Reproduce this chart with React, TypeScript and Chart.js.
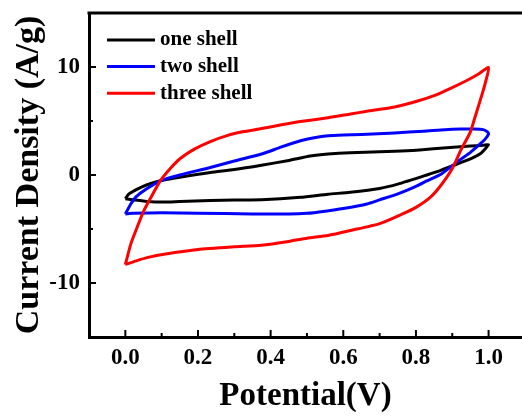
import React, { useEffect, useRef } from 'react';
import { Chart, registerables } from 'chart.js';

Chart.register(...registerables);

// ---- data ----
const seriesLabels = ['one shell', 'two shell', 'three shell'];
const seriesColors = ['#000000', '#0000ff', '#ff0000'];

// one shell: forward scan then reverse scan
const oneShellV = [
  0, 0.01, 0.033, 0.06, 0.097, 0.15, 0.234, 0.3, 0.375, 0.45, 0.509, 0.558, 0.619, 0.741, 0.802, 0.894, 0.95, 0.985, 1.0,
  0.99, 0.976, 0.95, 0.92, 0.87, 0.83, 0.75, 0.7, 0.619, 0.558, 0.482, 0.375, 0.3, 0.234, 0.15, 0.106, 0.06, 0.02, 0,
];
const oneShellI = [
  -2.2, -1.75, -1.3, -0.9, -0.53, -0.2, 0.24, 0.5, 0.9, 1.35, 1.75, 1.94, 2.07, 2.2, 2.3, 2.55, 2.68, 2.75, 2.8,
  2.4, 1.94, 1.5, 1.1, 0.45, 0.0, -0.85, -1.25, -1.6, -1.78, -2.07, -2.3, -2.32, -2.37, -2.45, -2.5, -2.45, -2.3, -2.2,
];

const twoShellV = [
  0, 0.005, 0.015, 0.03, 0.051, 0.075, 0.097, 0.15, 0.234, 0.3, 0.375, 0.43, 0.482, 0.52, 0.558, 0.6, 0.65, 0.741, 0.82, 0.88, 0.924, 0.96, 0.985, 0.997, 1.0,
  0.99, 0.976, 0.95, 0.921, 0.87, 0.83, 0.8, 0.75, 0.7, 0.665, 0.6, 0.55, 0.5, 0.45, 0.35, 0.2, 0.1, 0.02, 0,
];
const twoShellI = [
  -3.6, -3.3, -2.68, -2.0, -1.45, -0.95, -0.53, 0.0, 0.7, 1.3, 1.94, 2.6, 3.17, 3.45, 3.63, 3.7, 3.75, 3.9, 4.05, 4.2, 4.25, 4.25, 4.2, 4.0, 3.79,
  3.3, 2.86, 2.1, 1.4, 0.1, -0.55, -1.05, -1.75, -2.3, -2.68, -3.1, -3.35, -3.55, -3.62, -3.6, -3.55, -3.5, -3.55, -3.6,
];

const threeShellV = [
  0, 0.015, 0.033, 0.051, 0.075, 0.097, 0.125, 0.152, 0.19, 0.234, 0.28, 0.326, 0.375, 0.43, 0.482, 0.558, 0.62, 0.665, 0.741, 0.8, 0.85, 0.894, 0.94, 0.97, 1.0,
  0.99, 0.976, 0.963, 0.95, 0.925, 0.9, 0.87, 0.84, 0.8, 0.76, 0.7, 0.62, 0.558, 0.5, 0.45, 0.374, 0.3, 0.2, 0.115, 0.06, 0.03, 0,
];
const threeShellI = [
  -8.3, -6.4, -4.8, -3.3, -1.8, -0.5, 0.65, 1.55, 2.4, 3.1, 3.65, 4.02, 4.3, 4.65, 4.95, 5.3, 5.65, 5.9, 6.3, 6.8, 7.35, 8.0, 8.75, 9.3, 9.95,
  8.4, 6.8, 5.4, 4.0, 2.4, 0.6, -0.9, -2.05, -3.0, -3.65, -4.5, -5.14, -5.6, -5.85, -6.15, -6.5, -6.65, -6.9, -7.3, -7.65, -7.95, -8.3,
];

const xTickValues = [0, 0.2, 0.4, 0.6, 0.8, 1.0];
const xMinorValues = [0.1, 0.3, 0.5, 0.7, 0.9];
const yTickValues = [-10, 0, 10];
const yMinorValues = [-15, -5, 5, 15];

const FONT = '"Liberation Serif", "Times New Roman", serif';

const toPoints = (xs: number[], ys: number[]) => xs.map((x, i) => ({ x, y: ys[i] }));

const framePlugin = {
  id: 'frame',
  afterDatasetsDraw(chart: any) {
    const { ctx, chartArea, scales } = chart;
    const { left, top, bottom } = chartArea;
    ctx.save();
    ctx.strokeStyle = '#000';
    ctx.lineCap = 'butt';
    ctx.lineWidth = 3;
    ctx.beginPath();
    ctx.moveTo(left - 1.5, top);
    ctx.lineTo(chart.width, top);
    ctx.stroke();
    ctx.lineWidth = 2;
    const drawX = (vals: number[], len: number) => {
      vals.forEach((v) => {
        const px = scales.x.getPixelForValue(v);
        ctx.beginPath();
        ctx.moveTo(px, bottom);
        ctx.lineTo(px, bottom - len);
        ctx.stroke();
      });
    };
    const drawY = (vals: number[], len: number) => {
      vals.forEach((v) => {
        const py = scales.y.getPixelForValue(v);
        ctx.beginPath();
        ctx.moveTo(left, py);
        ctx.lineTo(left + len, py);
        ctx.stroke();
      });
    };
    drawX(xTickValues, 7);
    drawX(xMinorValues, 4);
    drawY(yTickValues, 7);
    drawY(yMinorValues, 4);
    ctx.restore();
  },
};

const legendPlugin = {
  id: 'insideLegend',
  afterDraw(chart: any) {
    const { ctx, chartArea } = chart;
    ctx.save();
    ctx.font = `bold 21px ${FONT}`;
    ctx.textBaseline = 'middle';
    ctx.textAlign = 'left';
    chart.data.datasets.forEach((ds: any, i: number) => {
      const y = chartArea.top + 27 + i * 26.6;
      const x0 = chartArea.left + 18;
      ctx.strokeStyle = ds.borderColor;
      ctx.lineWidth = 3;
      ctx.beginPath();
      ctx.moveTo(x0, y);
      ctx.lineTo(x0 + 48, y);
      ctx.stroke();
      ctx.fillStyle = '#000';
      ctx.fillText(ds.label, x0 + 53, y);
    });
    ctx.restore();
  },
};

export default function App() {
  const ref = useRef<HTMLCanvasElement | null>(null);

  useEffect(() => {
    if (!ref.current) return;
    const series = [
      toPoints(oneShellV, oneShellI),
      toPoints(twoShellV, twoShellI),
      toPoints(threeShellV, threeShellI),
    ];
    const chart = new Chart(ref.current, {
      type: 'line',
      data: {
        datasets: series.map((data, i) => ({
          label: seriesLabels[i],
          data,
          borderColor: seriesColors[i],
          backgroundColor: seriesColors[i],
          borderWidth: 3,
          pointRadius: 0,
          tension: 0.2,
          fill: false,
          order: 3 - i,
        })),
      },
      options: {
        animation: false,
        responsive: false,
        maintainAspectRatio: false,
        layout: { padding: { top: 13, right: 0, left: 0, bottom: 0 } },
        plugins: { legend: { display: false }, tooltip: { enabled: false } },
        scales: {
          x: {
            type: 'linear',
            position: 'bottom',
            min: -0.1,
            max: 1.092,
            afterBuildTicks: (s: any) => {
              s.ticks = xTickValues.map((v) => ({ value: v }));
            },
            afterFit: (s: any) => {
              s.height = 80;
              s.paddingLeft = 0;
              s.paddingRight = 0;
            },
            grid: { display: false, drawTicks: false },
            border: { display: true, color: '#000', width: 3 },
            ticks: {
              color: '#000',
              padding: 7,
              font: { family: FONT, size: 23, weight: 'bold' },
              callback: (v: any) => Number(v).toFixed(1),
            },
            title: {
              display: true,
              text: 'Potential(V)',
              color: '#000',
              font: { family: FONT, size: 33, weight: 'bold' },
              padding: { top: 0, bottom: 1 },
            },
          },
          y: {
            type: 'linear',
            min: -15,
            max: 15,
            afterBuildTicks: (s: any) => {
              s.ticks = yTickValues.map((v) => ({ value: v }));
            },
            afterFit: (s: any) => {
              s.width = 89;
              s.paddingTop = 0;
              s.paddingBottom = 0;
            },
            grid: { display: false, drawTicks: false },
            border: { display: true, color: '#000', width: 3 },
            ticks: {
              color: '#000',
              padding: 9,
              font: { family: FONT, size: 23, weight: 'bold' },
              callback: (v: any) => String(v),
            },
            title: {
              display: true,
              text: 'Current Density (A/g)',
              color: '#000',
              font: { family: FONT, size: 34, weight: 'bold' },
              padding: { top: 9, bottom: 0 },
            },
          },
        },
      },
      plugins: [framePlugin, legendPlugin],
    } as any);
    return () => chart.destroy();
  }, []);

  return (
    <div style={{ position: 'absolute', left: 0, top: 0, width: 522, height: 417, background: '#fff' }}>
      <canvas ref={ref} width={522} height={417} style={{ display: 'block', width: 522, height: 417 }} />
    </div>
  );
}
